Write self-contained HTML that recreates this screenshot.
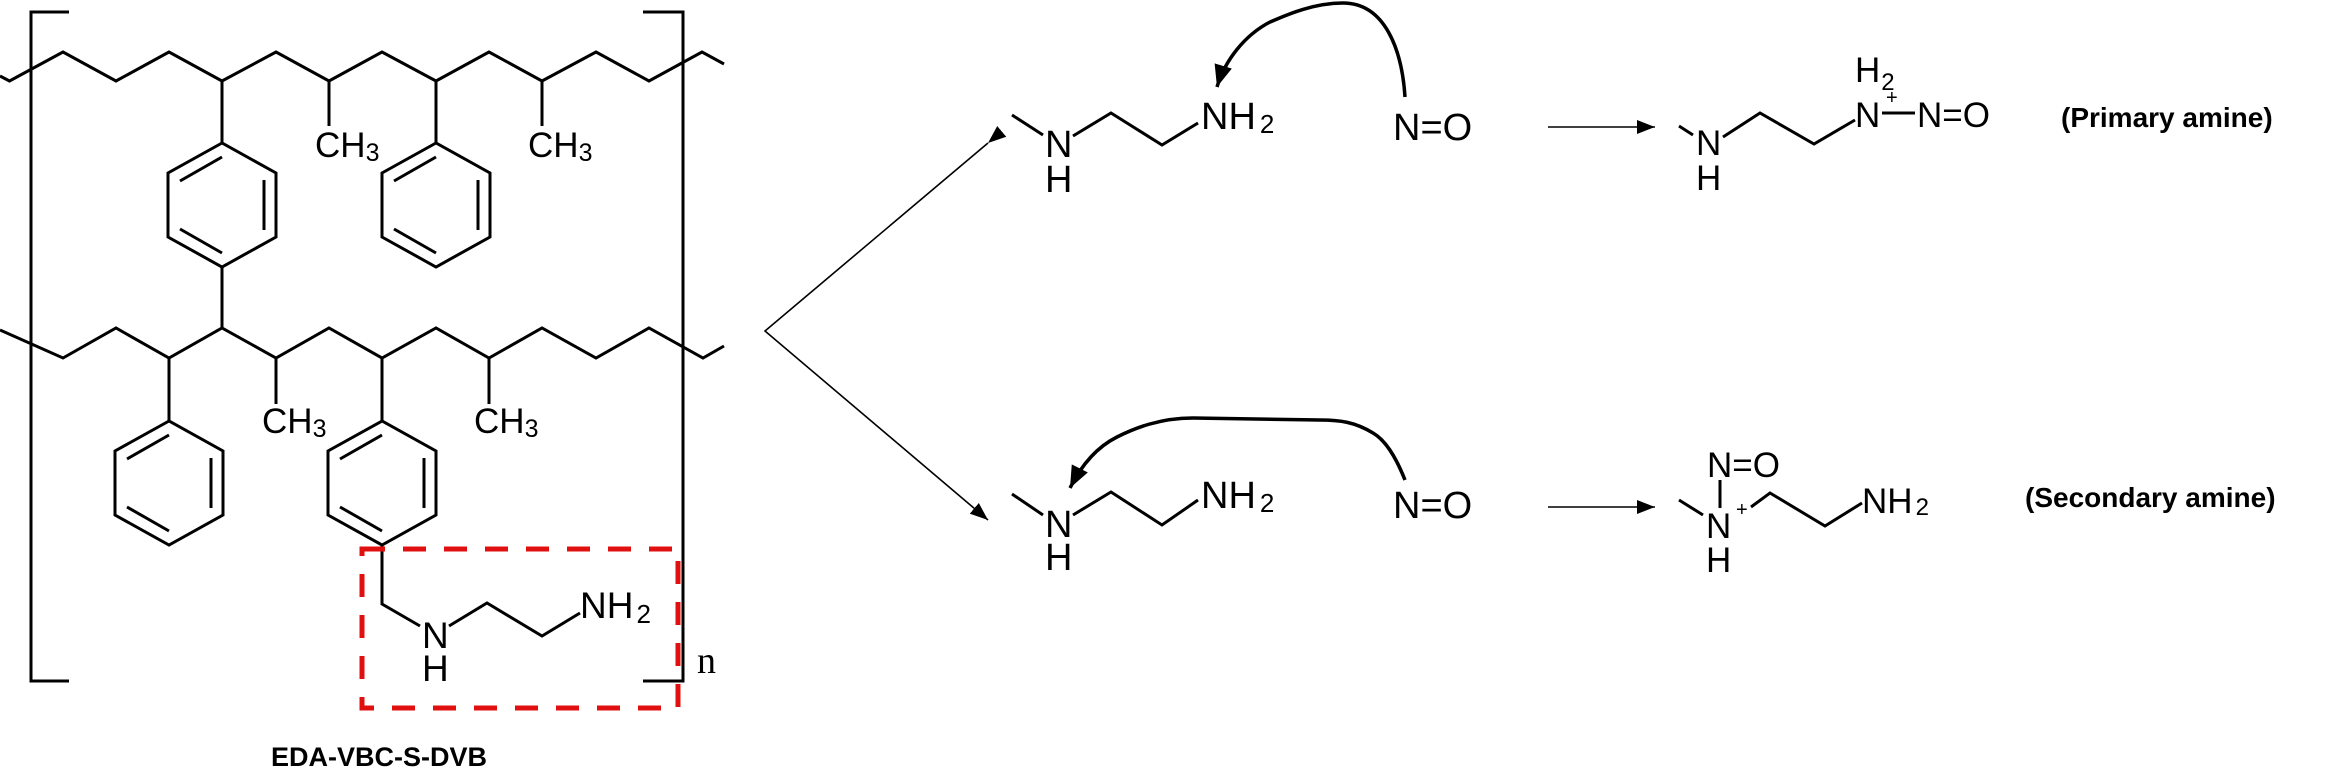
<!DOCTYPE html>
<html><head><meta charset="utf-8"><style>
html,body{margin:0;padding:0;background:#fff;}
svg{display:block;}
text{font-family:"Liberation Sans",Arial,sans-serif;fill:#000;}
</style></head><body>
<svg width="2325" height="771" viewBox="0 0 2325 771" xmlns="http://www.w3.org/2000/svg">
<defs>
<marker id="ah" markerUnits="userSpaceOnUse" markerWidth="20" markerHeight="14" refX="18" refY="7" orient="auto"><path d="M0,0 L18,7 L0,14 Z" fill="#000"/></marker>
<marker id="ah2" markerUnits="userSpaceOnUse" markerWidth="24" markerHeight="18" refX="22" refY="9" orient="auto"><path d="M0,0 L22,9 L0,18 Z" fill="#000"/></marker>
</defs>
<g fill="none" stroke="#000" stroke-width="3">
<!-- brackets -->
<path d="M69,12 H31 V681 H69"/>
<path d="M643,12 H683 V681 H643"/>
<!-- top chain -->
<polyline points="0,76 9.5,81 63,52 116,81 169,52 222,81 276,52 329,81 382,52 436,81 489,52 542,81 596,52 649,81 702,52 724,64"/>
<line x1="222" y1="81" x2="222" y2="143"/>
<line x1="329" y1="81" x2="329" y2="126"/>
<line x1="436" y1="81" x2="436" y2="143"/>
<line x1="542" y1="81" x2="542" y2="126"/>
<!-- ring 1 -->
<polygon points="222,143 168,173 168,237 222,267 276,237 276,173"/>
<line x1="222" y1="157" x2="180" y2="181"/><line x1="264" y1="180" x2="264" y2="230"/><line x1="180" y1="229" x2="222" y2="253"/>
<line x1="222" y1="267" x2="222" y2="328"/>
<!-- ring 2 -->
<polygon points="436,143 382,173 382,237 436,267 490,237 490,173"/>
<line x1="436" y1="157" x2="394" y2="181"/><line x1="478" y1="180" x2="478" y2="230"/><line x1="394" y1="229" x2="436" y2="253"/>
<!-- bottom chain -->
<polyline points="0,330 63,358 116,328 169,358 222,328 276,358 329,328 382,358 436,328 489,358 542,328 596,358 649,328 703,358 724,346"/>
<line x1="169" y1="358" x2="169" y2="421"/>
<line x1="276" y1="358" x2="276" y2="404"/>
<line x1="382" y1="358" x2="382" y2="421"/>
<line x1="489" y1="358" x2="489" y2="404"/>
<!-- ring 3 -->
<polygon points="169,421 115,451 115,515 169,545 223,515 223,451"/>
<line x1="169" y1="435" x2="127" y2="459"/><line x1="211" y1="458" x2="211" y2="508"/><line x1="127" y1="507" x2="169" y2="531"/>
<!-- ring 4 -->
<polygon points="382,421 328,451 328,515 382,545 436,515 436,451"/>
<line x1="382" y1="435" x2="340" y2="459"/><line x1="424" y1="458" x2="424" y2="508"/><line x1="340" y1="507" x2="382" y2="531"/>
<polyline points="382,545 382,604 420,626"/>
<polyline points="449,626 487,603 542,636 580,613"/>
<!-- reactants -->
<line x1="1012" y1="115" x2="1043" y2="135"/>
<polyline points="1073,136 1111,113 1162,145 1198,123"/>
<line x1="1012" y1="494" x2="1043" y2="515"/>
<polyline points="1073,515 1111,492 1162,525 1198,500"/>
<!-- products -->
<line x1="1679" y1="126" x2="1693" y2="135"/>
<polyline points="1723,137 1760,113 1814,144 1855,120"/>
<line x1="1882" y1="113" x2="1915" y2="113"/>
<line x1="1679" y1="500" x2="1703" y2="515"/>
<line x1="1720" y1="480" x2="1720" y2="508"/>
<polyline points="1751,507 1770,493 1825,526 1862,503"/>
<!-- curved arrows -->
<path d="M1405,97 C1402,50 1385,3 1343,3 C1310,3 1280,18 1270,22 C1245,35 1225,60 1217,87" stroke-width="3.5" marker-end="url(#ah2)"/>
<path d="M1405,480 C1395,455 1385,440 1373,433 C1355,422 1340,420 1320,420 L1193,418 C1160,418 1135,428 1117,437 C1095,448 1080,468 1070,488" stroke-width="3.5" marker-end="url(#ah2)"/>
</g>
<!-- thin arrows -->
<g fill="none" stroke="#000" stroke-width="1.6">
<polyline points="988,143 765,331 988,520" marker-start="url(#ah)" marker-end="url(#ah)"/>
<line x1="1548" y1="127" x2="1655" y2="127" marker-end="url(#ah)"/>
<line x1="1548" y1="507" x2="1655" y2="507" marker-end="url(#ah)"/>
</g>
<!-- red dashed box -->
<rect x="362" y="549" width="316" height="159" fill="none" stroke="#e01010" stroke-width="5" stroke-dasharray="23,18"/>
<!-- left labels -->
<g font-size="35">
<text x="315" y="157">CH<tspan font-size="25" dy="4">3</tspan></text>
<text x="528" y="157">CH<tspan font-size="25" dy="4">3</tspan></text>
<text x="262" y="433">CH<tspan font-size="25" dy="4">3</tspan></text>
<text x="474" y="433">CH<tspan font-size="25" dy="4">3</tspan></text>
</g>
<g font-size="37">
<text x="422" y="648">N</text>
<text x="422" y="681">H</text>
<text x="580" y="618">NH<tspan font-size="26" dx="3" dy="5">2</tspan></text>
</g>
<text x="697" y="673" font-size="38" style="font-family:'Liberation Serif',serif">n</text>
<text x="379" y="766" font-size="27" font-weight="bold" text-anchor="middle">EDA-VBC-S-DVB</text>
<!-- reactants -->
<g font-size="38">
<text x="1045" y="157">N</text><text x="1045" y="192">H</text>
<text x="1201" y="129">NH<tspan font-size="26" dx="4" dy="4">2</tspan></text>
<text x="1393" y="140">N=O</text>
<text x="1045" y="537">N</text><text x="1045" y="570">H</text>
<text x="1201" y="508">NH<tspan font-size="26" dx="4" dy="4">2</tspan></text>
<text x="1393" y="518">N=O</text>
</g>
<!-- products -->
<g font-size="35">
<text x="1696" y="155">N</text><text x="1696" y="190">H</text>
<text x="1855" y="127">N</text>
<text x="1855" y="82">H<tspan font-size="24" dx="1" dy="8">2</tspan></text>
<text x="1886" y="104" font-size="20">+</text>
<text x="1917" y="127">N=O</text>
<text x="1706" y="538">N</text><text x="1706" y="572">H</text>
<text x="1736" y="516" font-size="20">+</text>
<text x="1707" y="477">N=O</text>
<text x="1862" y="513">NH<tspan font-size="24" dx="3" dy="2">2</tspan></text>
</g>
<text x="2061" y="127" font-size="28" font-weight="bold">(Primary amine)</text>
<text x="2025" y="507" font-size="28" font-weight="bold">(Secondary amine)</text>
</svg>
</body></html>
